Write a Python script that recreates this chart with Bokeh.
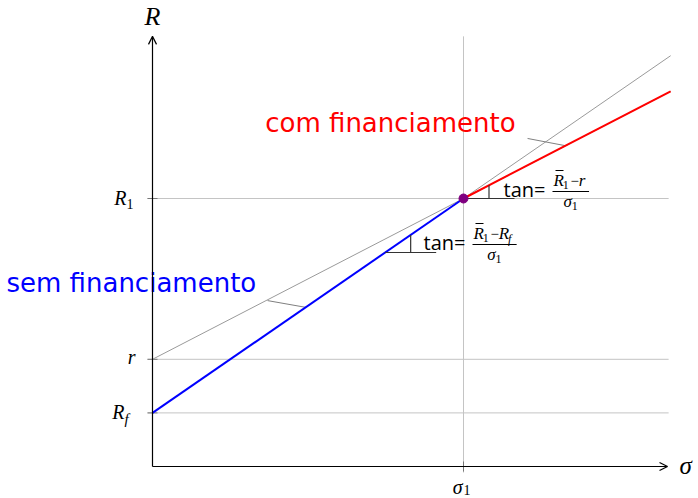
from bokeh.plotting import figure
from bokeh.models import Range1d, Arrow, OpenHead
from bokeh.core.properties import value
from bokeh.embed import file_html
from bokeh.resources import INLINE

# Key points of the risk/return diagram
sigma_1 = 1.0        # risk of the portfolio
R_1 = 1.0            # expected return of the portfolio
r_rate = 0.4         # borrowing rate
R_f = 0.2            # risk-free rate
sigma_max = 1.666    # end of the drawn lines
x_axis_end = 1.656
y_axis_end = 1.605

# pin lines pointing from the labels to the lines
pin_sem = ([0.370, 0.619], [0.492, 0.594])
pin_com = ([1.206, 1.224], [1.328, 1.197])

W, H = 698, 498
PX_X, PX_Y = 311.0, 268.0   # pixels per data unit
X0, Y0 = 152, 466           # pixel position of the origin

p = figure(width=W, height=H,
           x_range=Range1d(-X0 / PX_X, (W - X0) / PX_X),
           y_range=Range1d(-(H - Y0) / PX_Y, Y0 / PX_Y),
           x_axis_type=None, y_axis_type=None,
           output_backend="svg", toolbar_location=None, min_border=0)
p.grid.visible = False
p.outline_line_color = None
p.background_fill_color = "white"
p.border_fill_color = "white"


def dx(px):
    return px / PX_X


def dy(px):
    return px / PX_Y


def txt(x, y, s, size, color="black", font="Liberation Serif", style="italic",
        align="left", baseline="middle", ox=0, oy=0):
    p.text(x=[x], y=[y], text=[s], text_font=value(font),
           text_font_size=f"{size}px", text_font_style=style,
           text_color=color, text_align=align, text_baseline=baseline,
           x_offset=ox, y_offset=oy)


def line_with(x):
    return r_rate + (R_1 - r_rate) / sigma_1 * x


def line_without(x):
    return R_f + (R_1 - R_f) / sigma_1 * x


GRID = "#c4c4c4"
# horizontal guides and the vertical guide at sigma_1
for level in (R_1, r_rate, R_f):
    p.segment(x0=[-dx(5)], y0=[level], x1=[sigma_max - dx(2)], y1=[level],
              line_color=GRID, line_width=1)
    p.segment(x0=[-dx(5)], y0=[level], x1=[dx(5)], y1=[level],
              line_color="#777777", line_width=1)
p.segment(x0=[sigma_1], y0=[-dy(6)], x1=[sigma_1], y1=[y_axis_end],
          line_color=GRID, line_width=1)
p.segment(x0=[sigma_1], y0=[-dy(5)], x1=[sigma_1], y1=[dy(5)],
          line_color="#777777", line_width=1)

# both lines extended in grey
p.line([0, sigma_max], [line_with(0), line_with(sigma_max)],
       line_color="#9a9a9a", line_width=1)
p.line([0, sigma_max], [line_without(0), line_without(sigma_max)],
       line_color="#9a9a9a", line_width=1)

# pins
for a, b in (pin_sem, pin_com):
    p.line([a[0], b[0]], [a[1], b[1]], line_color="#808080", line_width=1)

# coloured segments
p.line([0, sigma_1], [line_without(0), line_without(sigma_1)],
       line_color="#0000ff", line_width=2)
p.line([sigma_1, sigma_max], [line_with(sigma_1), line_with(sigma_max)],
       line_color="#ff0000", line_width=2)

# slope triangles
tri_len = dx(51)
xa = (R_1 - dy(54) - R_f) / ((R_1 - R_f) / sigma_1)
ya = line_without(xa)
p.segment(x0=[xa], y0=[ya], x1=[xa + tri_len], y1=[ya], line_color="#333333", line_width=1.2)
p.segment(x0=[xa + tri_len / 2], y0=[ya], x1=[xa + tri_len / 2], y1=[line_without(xa + tri_len / 2)],
          line_color="#333333", line_width=1.2)
p.segment(x0=[sigma_1], y0=[R_1], x1=[sigma_1 + tri_len], y1=[R_1], line_color="#333333", line_width=1.2)
p.segment(x0=[sigma_1 + tri_len / 2], y0=[R_1], x1=[sigma_1 + tri_len / 2], y1=[line_with(sigma_1 + tri_len / 2)],
          line_color="#333333", line_width=1.2)

# portfolio point
p.scatter([sigma_1], [R_1], size=9, color="#800080")

# axes
p.add_layout(Arrow(end=OpenHead(size=8, line_width=1.2, line_color="black"),
                   x_start=0, y_start=0, x_end=x_axis_end, y_end=0,
                   line_width=1.2, line_color="black"))
p.add_layout(Arrow(end=OpenHead(size=8, line_width=1.2, line_color="black"),
                   x_start=0, y_start=0, x_end=0, y_end=y_axis_end,
                   line_width=1.2, line_color="black"))

# axis names
txt(x_axis_end, 0, "σ", 25, ox=12, oy=-1)
txt(0, y_axis_end, "R", 26, align="center", oy=-20)

# tick labels
txt(0, R_1, "R", 20, align="right", ox=-26, oy=-1)
txt(0, R_1, "1", 14, style="normal", ox=-26, oy=5)
txt(0, r_rate, "r", 20, align="right", ox=-17, oy=-2)
txt(0, R_f, "R", 20, align="right", ox=-28, oy=-1)
txt(0, R_f, "f", 15, ox=-28, oy=6)
txt(sigma_1, 0, "σ", 20, align="right", ox=-1, oy=20)
txt(sigma_1, 0, "1", 14, style="normal", ox=0, oy=23)

# series labels
txt(0.765, 1.28, "com financiamento", 26, color="#ff0000", font="DejaVu Sans",
    style="normal", align="center")
txt(-0.068, 0.683, "sem financiamento", 26, color="#0000ff", font="DejaVu Sans",
    style="normal", align="center")


def fraction(ox_tan, oy_mid, num, ox_num):
    # "tan=" followed by a stacked fraction, placed relative to (sigma_1, R_1)
    txt(sigma_1, R_1, "tan=", 20, font="Open Sans", style="normal", ox=ox_tan, oy=oy_mid - 2)
    x = ox_num
    for s, size, style, yoff in num:
        txt(sigma_1, R_1, s, size, style=style, ox=x, oy=oy_mid - 11 + yoff)
        x += len(s) * size * 0.55 + (1 if size < 14 else 0)
    x0b = sigma_1 + dx(ox_num - 1)
    x1b = sigma_1 + dx(x + 1)
    p.segment(x0=[x0b], y0=[R_1 - dy(oy_mid)], x1=[x1b], y1=[R_1 - dy(oy_mid)],
              line_color="black", line_width=1)
    p.segment(x0=[sigma_1 + dx(ox_num + 2)], y0=[R_1 - dy(oy_mid - 21)],
              x1=[sigma_1 + dx(ox_num + 10)], y1=[R_1 - dy(oy_mid - 21)],
              line_color="black", line_width=1)
    mid = (ox_num + x) / 2
    txt(sigma_1, R_1, "σ", 17, align="right", ox=mid + 1, oy=oy_mid + 10)
    txt(sigma_1, R_1, "1", 12, style="normal", ox=mid + 1, oy=oy_mid + 14)


fraction(40, -7, [("R", 17, "italic", 0), ("1", 12, "normal", 4), ("−", 15, "normal", 0),
                  ("r", 17, "italic", 0)], 90)
fraction(-40, 46, [("R", 17, "italic", 0), ("1", 12, "normal", 4), ("−", 15, "normal", 0),
                   ("R", 17, "italic", 0), ("f", 12, "italic", 5)], 10)

open("out.html", "w").write(file_html(p, INLINE))
